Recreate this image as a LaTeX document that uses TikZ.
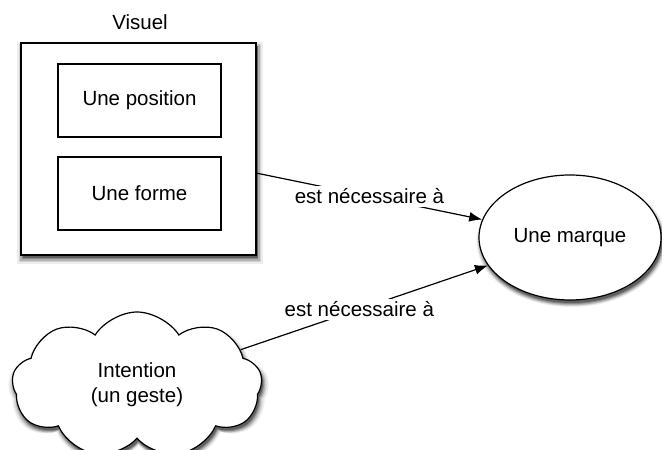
\documentclass[tikz,border=0pt]{standalone}
\usepackage{fontspec}
\setmainfont{Liberation Sans}
\usetikzlibrary{shapes.geometric,shapes.symbols,arrows.meta,shadows}
\begin{document}
\begin{tikzpicture}[x=1pt,y=1pt,
  every node/.style={font=\fontsize{20.5}{25}\selectfont},
  lw/.style={line width=1.2pt},
  shad/.style={
    general shadow={fill=black,opacity=0.07,shadow xshift=1.5pt,shadow yshift=-4pt,shadow scale=1.045},
    general shadow={fill=black,opacity=0.11,shadow xshift=1.5pt,shadow yshift=-4pt,shadow scale=1.03},
    general shadow={fill=black,opacity=0.16,shadow xshift=1.5pt,shadow yshift=-4pt,shadow scale=1.018},
    general shadow={fill=black,opacity=0.22,shadow xshift=1.5pt,shadow yshift=-3.5pt,shadow scale=1.008},
    general shadow={fill=black,opacity=0.30,shadow xshift=1.5pt,shadow yshift=-3pt}},
  outerbox/.style={lw,draw,fill=white,shad,minimum width=235pt,minimum height=212pt,inner sep=0pt},
  innerbox/.style={lw,draw,fill=white,minimum width=163pt,minimum height=73pt,inner sep=0pt},
  markell/.style={lw,draw,fill=white,shad,ellipse,minimum width=182pt,minimum height=125pt,inner sep=0pt},
  cloudnode/.style={lw,draw,fill=white,shad,cloud,cloud puffs=9,cloud puff arc=115,cloud ignores aspect,minimum width=250pt,minimum height=146pt,inner sep=0pt,align=center},
  conn/.style={lw,-{Latex[length=13pt,width=10pt]}},
  lbl/.style={fill=white,inner xsep=1pt,inner ysep=3pt}
]
\useasboundingbox (0,0) rectangle (662,450);
\node[outerbox] (visuel) at (138.5,301) {};
\node (vlabel) at (140,428) {Visuel};
\node[innerbox] (pos) at (139.5,349.5) {Une position};
\node[innerbox] (forme) at (139.5,256.5) {Une forme};
\node[markell] (marque) at (570,212.5) {Une marque};
\node[cloudnode] (intention) at (137,65) {Intention\\(un geste)};
\draw[conn] (visuel) -- node[lbl,pos=0.5] {est nécessaire à} (marque);
\draw[conn] (intention) -- node[lbl,pos=0.48] {est nécessaire à} (marque);
\end{tikzpicture}
\end{document}
